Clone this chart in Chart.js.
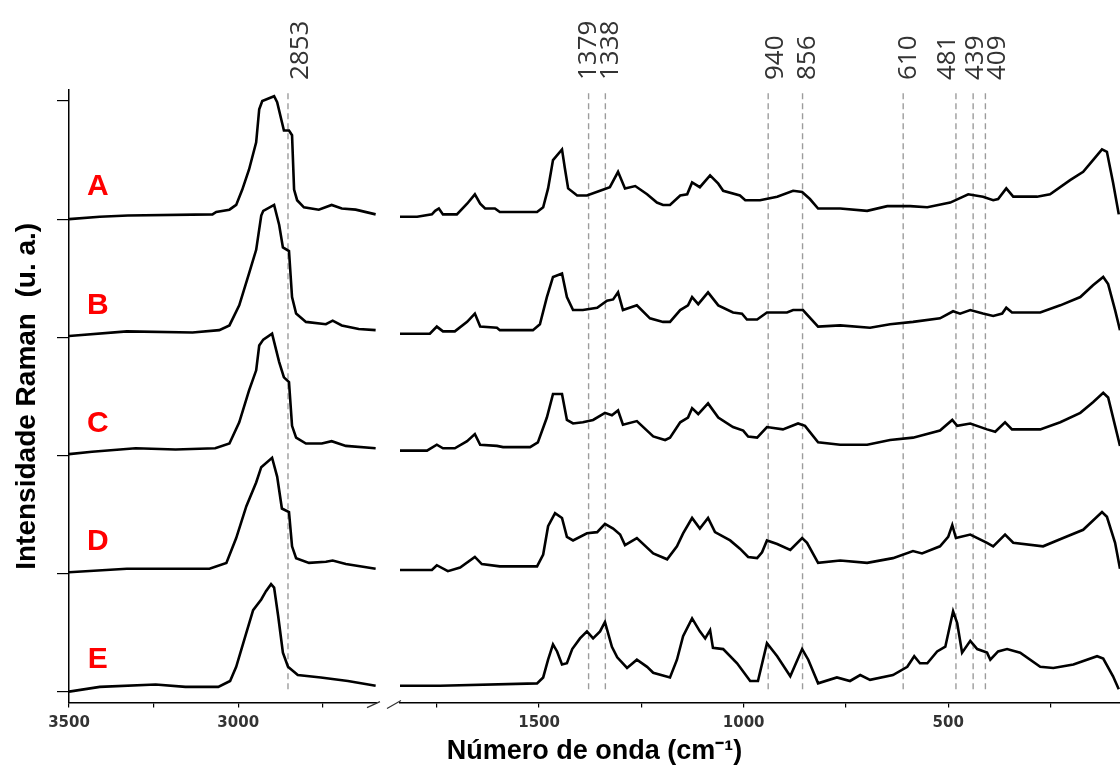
<!DOCTYPE html>
<html>
<head>
<meta charset="utf-8">
<script src="https://cdn.jsdelivr.net/npm/chart.js@4.4.1/dist/chart.umd.min.js"></script>
<style>
  html, body { margin: 0; padding: 0; background: #fff; }
</style>
</head>
<body>
<canvas id="raman" width="1120" height="773"></canvas>
<script>
// samples, top to bottom, and their vertical offset in the stack
const sampleNames = ["A", "B", "C", "D", "E"]
const sampleOffsets = [4, 3, 2, 1, 0]

// marked bands (cm-1)
const bands = [2853, 1379, 1338, 940, 856, 610, 481, 439, 409]

// axis ticks
const ticksHigh = [3500, 3250, 3000, 2750]
const ticksLow = [1750, 1500, 1250, 1000, 750, 500, 250]
const ticksY = [0, 1, 2, 3, 4, 5]

// spectra: [wavenumber, intensity]
// high region 3500-2594
const highA = [[3500,0.00],[3409,0.02],[3326,0.03],[3076,0.04],[3065,0.06],[3026,0.08],[3006,0.12],[2988,0.25],[2968,0.42],[2947,0.65],[2938,0.93],[2929,1.00],[2894,1.04],[2885,0.99],[2865,0.75],[2850,0.75],[2841,0.71],[2835,0.25],[2826,0.16],[2806,0.10],[2762,0.08],[2724,0.12],[2694,0.09],[2653,0.08],[2594,0.04]]
const highB = [[3500,0.01],[3329,0.05],[3135,0.04],[3056,0.06],[3026,0.10],[2997,0.27],[2968,0.54],[2947,0.74],[2932,1.03],[2926,1.07],[2894,1.12],[2879,0.95],[2868,0.76],[2850,0.73],[2841,0.34],[2829,0.20],[2800,0.13],[2741,0.11],[2721,0.14],[2694,0.10],[2644,0.07],[2594,0.06]]
const highC = [[3500,0.01],[3432,0.03],[3303,0.06],[3185,0.05],[3068,0.06],[3026,0.10],[2997,0.28],[2968,0.55],[2947,0.72],[2938,0.93],[2926,0.98],[2900,1.03],[2879,0.79],[2865,0.66],[2850,0.62],[2841,0.25],[2829,0.15],[2800,0.10],[2753,0.10],[2724,0.12],[2682,0.08],[2594,0.06]]
const highD = [[3500,0.01],[3329,0.04],[3085,0.04],[3035,0.09],[3006,0.30],[2976,0.57],[2947,0.77],[2932,0.90],[2900,0.98],[2885,0.82],[2871,0.55],[2850,0.52],[2841,0.23],[2829,0.13],[2791,0.09],[2741,0.10],[2721,0.11],[2682,0.08],[2594,0.04]]
const highE = [[3500,0.00],[3409,0.04],[3244,0.06],[3156,0.04],[3059,0.04],[3024,0.09],[3006,0.21],[2979,0.47],[2956,0.69],[2932,0.78],[2918,0.85],[2903,0.91],[2894,0.88],[2882,0.64],[2868,0.33],[2853,0.21],[2824,0.14],[2756,0.12],[2676,0.09],[2594,0.05]]

// low region 1840-80
const lowA = [[1840,0.02],[1798,0.02],[1762,0.04],[1754,0.07],[1745,0.09],[1735,0.04],[1701,0.04],[1676,0.13],[1657,0.21],[1644,0.13],[1632,0.09],[1608,0.09],[1596,0.06],[1505,0.06],[1490,0.10],[1478,0.26],[1466,0.50],[1444,0.59],[1437,0.43],[1429,0.26],[1407,0.20],[1383,0.20],[1351,0.24],[1327,0.27],[1307,0.40],[1290,0.26],[1265,0.28],[1236,0.21],[1212,0.14],[1197,0.12],[1180,0.12],[1155,0.20],[1138,0.21],[1126,0.31],[1107,0.27],[1082,0.37],[1062,0.30],[1050,0.24],[1009,0.20],[996,0.16],[960,0.16],[918,0.19],[879,0.24],[857,0.23],[838,0.17],[818,0.09],[764,0.09],[698,0.07],[649,0.11],[593,0.11],[551,0.10],[495,0.14],[451,0.21],[415,0.19],[390,0.16],[378,0.17],[358,0.26],[341,0.19],[283,0.19],[251,0.21],[202,0.33],[170,0.40],[146,0.50],[124,0.59],[112,0.57],[97,0.31],[83,0.04]]
const lowB = [[1840,0.03],[1767,0.03],[1750,0.09],[1735,0.05],[1706,0.05],[1676,0.13],[1657,0.20],[1644,0.09],[1603,0.08],[1596,0.06],[1515,0.06],[1498,0.11],[1481,0.34],[1466,0.51],[1444,0.54],[1432,0.34],[1417,0.23],[1393,0.23],[1358,0.25],[1334,0.31],[1319,0.32],[1307,0.38],[1295,0.23],[1261,0.27],[1229,0.16],[1197,0.13],[1180,0.13],[1155,0.23],[1136,0.27],[1126,0.34],[1111,0.28],[1087,0.38],[1062,0.27],[1026,0.21],[1004,0.20],[992,0.15],[967,0.15],[943,0.21],[894,0.21],[879,0.23],[855,0.23],[818,0.09],[764,0.10],[691,0.08],[642,0.11],[586,0.13],[520,0.16],[488,0.22],[471,0.20],[446,0.23],[415,0.20],[390,0.18],[368,0.20],[358,0.25],[344,0.21],[275,0.21],[226,0.27],[177,0.34],[146,0.44],[121,0.51],[109,0.45],[92,0.23],[80,0.06]]
const lowC = [[1840,0.04],[1774,0.04],[1750,0.09],[1735,0.06],[1706,0.06],[1676,0.12],[1657,0.18],[1644,0.09],[1603,0.08],[1588,0.07],[1522,0.07],[1503,0.11],[1481,0.32],[1466,0.52],[1444,0.52],[1432,0.30],[1417,0.27],[1393,0.28],[1368,0.30],[1339,0.36],[1322,0.34],[1307,0.38],[1295,0.26],[1261,0.29],[1221,0.16],[1192,0.13],[1180,0.15],[1155,0.28],[1136,0.32],[1126,0.40],[1111,0.35],[1087,0.44],[1062,0.32],[1026,0.24],[1001,0.21],[989,0.16],[967,0.15],[943,0.24],[904,0.22],[867,0.27],[850,0.25],[818,0.11],[764,0.09],[698,0.09],[642,0.13],[586,0.15],[520,0.21],[490,0.30],[478,0.25],[446,0.27],[405,0.22],[385,0.20],[361,0.28],[344,0.22],[275,0.22],[226,0.28],[177,0.36],[146,0.45],[121,0.53],[109,0.49],[92,0.25],[80,0.08]]
const lowD = [[1840,0.03],[1762,0.03],[1750,0.07],[1723,0.02],[1693,0.05],[1657,0.14],[1640,0.08],[1596,0.06],[1505,0.06],[1490,0.16],[1478,0.40],[1461,0.51],[1444,0.47],[1432,0.31],[1417,0.28],[1383,0.34],[1358,0.35],[1339,0.42],[1319,0.38],[1302,0.33],[1290,0.24],[1261,0.30],[1221,0.17],[1187,0.12],[1163,0.23],[1148,0.34],[1126,0.47],[1107,0.38],[1087,0.47],[1070,0.35],[1033,0.28],[1009,0.21],[989,0.14],[967,0.13],[955,0.18],[943,0.28],[918,0.25],[886,0.20],[857,0.30],[845,0.26],[818,0.09],[764,0.11],[698,0.09],[635,0.13],[586,0.19],[564,0.17],[520,0.23],[500,0.31],[490,0.41],[481,0.30],[446,0.33],[405,0.26],[390,0.23],[361,0.33],[341,0.26],[268,0.23],[219,0.30],[170,0.37],[124,0.52],[112,0.48],[92,0.26],[80,0.04]]
const lowE = [[1840,0.05],[1742,0.05],[1505,0.07],[1490,0.12],[1478,0.27],[1466,0.40],[1456,0.34],[1444,0.23],[1432,0.24],[1419,0.36],[1400,0.45],[1383,0.51],[1368,0.45],[1351,0.51],[1339,0.59],[1322,0.38],[1309,0.29],[1285,0.20],[1261,0.27],[1236,0.21],[1221,0.16],[1180,0.12],[1163,0.27],[1148,0.47],[1126,0.62],[1107,0.51],[1094,0.45],[1082,0.52],[1075,0.37],[1050,0.36],[1016,0.24],[984,0.09],[965,0.09],[943,0.41],[918,0.30],[886,0.13],[857,0.36],[842,0.27],[818,0.07],[772,0.12],[740,0.09],[715,0.14],[691,0.10],[635,0.14],[600,0.21],[583,0.30],[569,0.24],[551,0.24],[527,0.34],[507,0.38],[488,0.68],[478,0.58],[466,0.33],[446,0.43],[429,0.36],[405,0.33],[397,0.27],[378,0.34],[356,0.36],[324,0.33],[275,0.21],[243,0.20],[194,0.23],[136,0.30],[121,0.28],[97,0.13],[83,0.02]]

const highSpectra = [highA, highB, highC, highD, highE]
const lowSpectra = [lowA, lowB, lowC, lowD, lowE]

// where the band markers and sample letters sit
const bandFoot = 0.02
const bandTop = 5.07
const labelShift = [13, 0, 5, 7, 5, 5, -8, 2, 12]
const letterWave = 3415
const letterLift = 0.27

const FONT = "'Liberation Sans', Arial, sans-serif"

function toPoints(spec, offset) {
    return spec.map(p => ({x: p[0], y: p[1] + offset}))
}

const datasets = []
sampleNames.forEach((name, i) => {
    datasets.push({
        label: name,
        data: toPoints(highSpectra[i], sampleOffsets[i]),
        xAxisID: "xL",
        borderColor: "#000",
        borderWidth: 2.6,
        pointRadius: 0,
        tension: 0
    })
    datasets.push({
        label: name,
        data: toPoints(lowSpectra[i], sampleOffsets[i]),
        xAxisID: "xR",
        borderColor: "#000",
        borderWidth: 2.6,
        pointRadius: 0,
        tension: 0
    })
})
bands.forEach(w => {
    datasets.push({
        label: String(w),
        data: [{x: w, y: bandFoot}, {x: w, y: bandTop}],
        xAxisID: w > 2000 ? "xL" : "xR",
        borderColor: "#9c9c9c",
        borderWidth: 1.4,
        borderDash: [6, 4],
        pointRadius: 0
    })
})

const decorations = {
    id: "decorations",
    afterDraw(chart) {
        const {ctx, scales, chartArea} = chart
        const xL = scales.xL, xR = scales.xR, y = scales.y
        ctx.save()

        // sample letters
        ctx.fillStyle = "#ff0000"
        ctx.font = "bold 30px " + FONT
        ctx.textAlign = "center"
        ctx.textBaseline = "middle"
        sampleNames.forEach((name, i) => {
            ctx.fillText(name, xL.getPixelForValue(letterWave), y.getPixelForValue(sampleOffsets[i] + letterLift))
        })

        // band labels, rotated
        ctx.fillStyle = "#333"
        ctx.font = "26px 'Open Sans', sans-serif"
        ctx.textAlign = "left"
        bands.forEach((w, i) => {
            const sc = w > 2000 ? xL : xR
            ctx.save()
            ctx.translate(sc.getPixelForValue(w) + labelShift[i], chartArea.top - 10)
            ctx.rotate(-Math.PI / 2)
            ctx.fillText(String(w), 0, 0)
            ctx.restore()
        })

        // axis break marks
        const yb = chartArea.bottom
        ctx.strokeStyle = "#333"
        ctx.lineWidth = 1.2
        ctx.beginPath()
        ctx.moveTo(xL.right - 10, yb + 5)
        ctx.lineTo(xL.right + 3, yb - 1)
        ctx.moveTo(xR.left - 13, yb + 6)
        ctx.lineTo(xR.left + 1, yb - 2)
        ctx.stroke()
        ctx.restore()
    }
}

function xTickLabel(v) {
    return v % 500 === 0 ? String(v) : ""
}

const xTicks = {
    callback: xTickLabel,
    autoSkip: false,
    maxRotation: 0,
    padding: 7,
    color: "#333",
    font: {family: "'DejaVu Sans', sans-serif", size: 15, weight: "bold"}
}

new Chart(document.getElementById("raman"), {
    type: "line",
    data: {datasets: datasets},
    options: {
        responsive: false,
        animation: false,
        devicePixelRatio: 1,
        layout: {padding: {top: 90, right: 0, bottom: 0, left: 0}},
        plugins: {
            legend: {display: false},
            tooltip: {enabled: false},
            title: {
                display: true,
                text: "Número de onda (cm⁻¹)",
                position: "bottom",
                fullSize: false,
                color: "#000",
                font: {family: FONT, size: 27, weight: "bold"},
                padding: {top: 1, bottom: 5}
            }
        },
        scales: {
            xL: {
                type: "linear",
                position: "bottom",
                reverse: true,
                min: 2590,
                max: 3500,
                stack: "wave",
                stackWeight: 308,
                afterBuildTicks: s => { s.ticks = ticksHigh.map(v => ({value: v})) },
                afterFit: s => { s.height = 32 },
                ticks: xTicks,
                grid: {drawOnChartArea: false, tickLength: 5, color: "#000", lineWidth: 1.2},
                border: {color: "#000", width: 1.5}
            },
            xGap: {
                type: "linear",
                position: "bottom",
                stack: "wave",
                stackWeight: 23,
                afterFit: s => { s.height = 32 },
                ticks: {display: false},
                grid: {display: false},
                border: {display: false}
            },
            xR: {
                type: "linear",
                position: "bottom",
                reverse: true,
                min: 80,
                max: 1840,
                stack: "wave",
                stackWeight: 720,
                afterBuildTicks: s => { s.ticks = ticksLow.map(v => ({value: v})) },
                afterFit: s => { s.height = 32 },
                ticks: xTicks,
                grid: {drawOnChartArea: false, tickLength: 5, color: "#000", lineWidth: 1.2},
                border: {color: "#000", width: 1.5}
            },
            y: {
                type: "linear",
                position: "left",
                min: -0.093,
                max: 5.093,
                afterBuildTicks: s => { s.ticks = ticksY.map(v => ({value: v})) },
                afterFit: s => { s.width = 69 },
                ticks: {display: false},
                grid: {drawOnChartArea: false, tickLength: 12, color: "#000", lineWidth: 1.2},
                border: {color: "#000", width: 1.5},
                title: {
                    display: true,
                    text: "Intensidade Raman  (u. a.)",
                    color: "#000",
                    font: {family: FONT, size: 28, weight: "bold"},
                    padding: {top: 10, bottom: 0}
                }
            }
        }
    },
    plugins: [decorations]
})
</script>
</body>
</html>
